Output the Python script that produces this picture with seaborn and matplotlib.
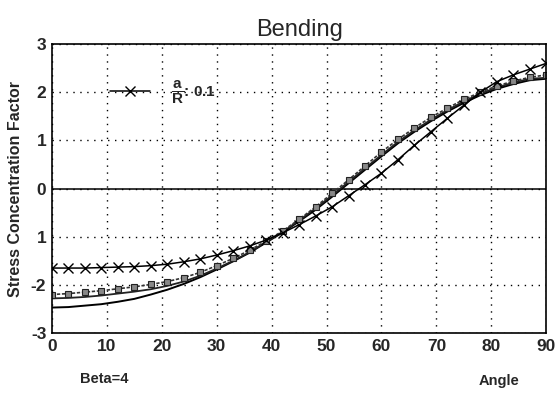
import matplotlib
matplotlib.use("Agg")
import matplotlib.pyplot as plt
import seaborn as sns
import pandas as pd

angle = [0, 3, 6, 9, 12, 15, 18, 21, 24, 27, 30, 33, 36, 39, 42, 45,
         48, 51, 54, 57, 60, 63, 66, 69, 72, 75, 78, 81, 84, 87, 90]
scf_a = [-1.65, -1.65, -1.65, -1.64, -1.63, -1.62, -1.60, -1.57, -1.52, -1.46, -1.38,
         -1.29, -1.19, -1.07, -0.92, -0.75, -0.57, -0.38, -0.15, 0.08, 0.32,
         0.60, 0.90, 1.18, 1.46, 1.73, 2.00, 2.22, 2.36, 2.48, 2.60]
scf_b = [-2.20, -2.18, -2.15, -2.12, -2.08, -2.04, -1.99, -1.93, -1.85, -1.74, -1.60,
         -1.45, -1.28, -1.09, -0.88, -0.64, -0.38, -0.10, 0.18, 0.47, 0.76,
         1.02, 1.26, 1.48, 1.67, 1.85, 2.00, 2.13, 2.23, 2.31, 2.36]
scf_c = [-2.28, -2.27, -2.25, -2.22, -2.18, -2.14, -2.09, -2.02, -1.93, -1.81, -1.66,
         -1.50, -1.32, -1.11, -0.90, -0.66, -0.41, -0.14, 0.14, 0.42, 0.70,
         0.97, 1.21, 1.43, 1.63, 1.81, 1.97, 2.10, 2.20, 2.28, 2.30]
scf_d = [-2.47, -2.46, -2.43, -2.40, -2.35, -2.29, -2.20, -2.10, -1.98, -1.84, -1.68,
         -1.51, -1.33, -1.12, -0.91, -0.68, -0.44, -0.17, 0.11, 0.39, 0.67,
         0.94, 1.18, 1.40, 1.60, 1.78, 1.94, 2.07, 2.17, 2.25, 2.28]

x_ticks = [0, 10, 20, 30, 40, 50, 60, 70, 80, 90]
y_ticks = [-3, -2, -1, 0, 1, 2, 3]
y_ticklabels = ['-3', '-2', '1', '0', '1', '2', '3']

sns.set_style("white")
plt.rcParams['font.family'] = ['Liberation Sans', 'DejaVu Sans']
plt.rcParams['mathtext.fontset'] = 'custom'
plt.rcParams['mathtext.rm'] = 'Liberation Sans:bold'
plt.rcParams['mathtext.it'] = 'Liberation Sans:bold'
plt.rcParams['mathtext.bf'] = 'Liberation Sans:bold'

fig = plt.figure(figsize=(5.58, 3.97), dpi=100)
ax = fig.add_axes([0.093, 0.161, 0.886, 0.728])

df = pd.DataFrame({'angle': angle, 'a': scf_a, 'b': scf_b, 'c': scf_c, 'd': scf_d})

sns.lineplot(data=df, x='angle', y='d', ax=ax, color='black', lw=1.4)
sns.lineplot(data=df, x='angle', y='c', ax=ax, color='#222222', lw=1.3)
sns.lineplot(data=df, x='angle', y='b', ax=ax, color='#333333', lw=1.2, linestyle=(0, (2, 1)),
             marker='s', markersize=4, markerfacecolor='#888888', markeredgecolor='#222222',
             markeredgewidth=0.8)
sns.lineplot(data=df, x='angle', y='a', ax=ax, color='black', lw=1.1,
             marker='x', markersize=7, markeredgewidth=1.0, markeredgecolor='black',
             label=r'$\dfrac{a}{R}$: 0.1')

ax.axhline(0, color='black', lw=1.1, zorder=1)
ax.set_xlim(0, 90)
ax.set_ylim(-3, 3)
ax.set_xticks(x_ticks)
ax.set_yticks(y_ticks)
ax.set_yticklabels(y_ticklabels)
ax.grid(True, color='black', linestyle=(0, (1, 4)), lw=1.0)
for s in ax.spines.values():
    s.set_color('black')
    s.set_linewidth(1.2)
ax.tick_params(axis='both', labelsize=12.5, length=0, pad=4)
for lab in ax.get_xticklabels() + ax.get_yticklabels():
    lab.set_fontweight('bold')

ax.set_xlabel('')
ax.set_ylabel('Stress Concentration Factor', fontsize=11.5, fontweight='bold', labelpad=6)
ax.set_title('Bending', fontsize=17, pad=6)

leg = ax.legend(loc='center left', bbox_to_anchor=(0.09, 0.833), frameon=False,
                fontsize=11, handlelength=2.6, handletextpad=1.4)
for t in leg.get_texts():
    t.set_fontweight('bold')

fig.text(0.143, 0.045, 'Beta=4', fontsize=10.5, fontweight='bold', ha='left', va='center')
fig.text(0.895, 0.04, 'Angle', fontsize=10.5, fontweight='bold', ha='center', va='center')

fig.savefig('out.png', dpi=100)
